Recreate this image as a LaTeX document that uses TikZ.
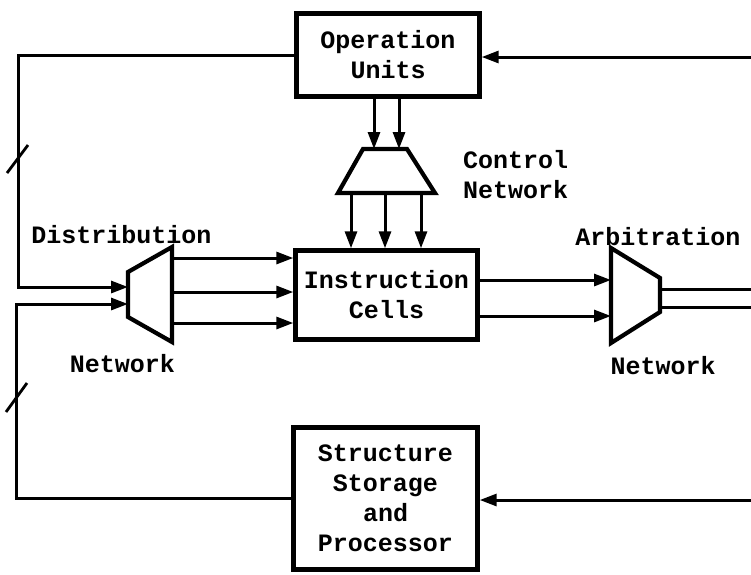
\documentclass[tikz,border=0pt]{standalone}
\usepackage{fontspec}
\setmonofont{Liberation Mono}
\usetikzlibrary{arrows.meta}
\begin{document}
\begin{tikzpicture}[x=1pt,y=-1pt,
  txt/.style={font=\ttfamily\bfseries\fontsize{25}{30}\selectfont, inner sep=0pt},
  box/.style={txt, draw, line width=4.4pt, align=center},
  trap/.style={line width=4.2pt, line join=miter},
  conn/.style={line width=3pt},
  arr/.style={conn, -{Triangle[length=17pt,width=12pt]}},
  tick/.style={line width=2.8pt}]
\useasboundingbox (0,0) rectangle (751,574);

% processing boxes
\node[box, minimum width=183pt, minimum height=83pt] (ops) at (388,55) {Operation\\Units};
\node[box, minimum width=182pt, minimum height=89pt] (cells) at (386.5,295) {Instruction\\Cells};
\node[box, minimum width=184pt, minimum height=142pt] (store) at (385.5,498.5) {Structure\\Storage\\and\\Processor};

% control network (trapezoid pointing down)
\coordinate (cnTL) at (363,149); \coordinate (cnTR) at (407,149);
\coordinate (cnBL) at (338,193); \coordinate (cnBR) at (435,193);
\draw[trap] (cnTL) -- (cnTR) -- (cnBR) -- (cnBL) -- cycle;
\node[txt, anchor=west, align=left] (cnlbl) at (463,175) {Control\\Network};

% distribution network (trapezoid widening to the right)
\coordinate (dnTL) at (128,272); \coordinate (dnBL) at (128,317);
\coordinate (dnTR) at (172,247); \coordinate (dnBR) at (172,342);
\draw[trap] (dnTL) -- (dnTR) -- (dnBR) -- (dnBL) -- cycle;
\node[txt] (dnlbl1) at (121.5,235) {Distribution};
\node[txt] (dnlbl2) at (122.5,364) {Network};

% arbitration network (trapezoid narrowing to the right)
\coordinate (anTL) at (611,248); \coordinate (anBL) at (611,343);
\coordinate (anTR) at (660,278); \coordinate (anBR) at (660,312);
\draw[trap] (anTL) -- (anTR) -- (anBR) -- (anBL) -- cycle;
\node[txt] (anlbl1) at (658,237) {Arbitration};
\node[txt] (anlbl2) at (663,366) {Network};

% operation units -> control network -> instruction cells
\foreach \x in {374,399}
  \draw[arr] (ops.south -| \x,0) -- (\x,149);
\foreach \x in {351,385,421}
  \draw[arr] (\x,193) -- (cells.north -| \x,0);

% distribution network -> instruction cells
\foreach \y in {258,292,323}
  \draw[arr] (172,\y) -- (cells.west |- 0,\y);

% instruction cells -> arbitration network
\foreach \y in {280,316}
  \draw[arr] (cells.east |- 0,\y) -- (611,\y);

% arbitration network outputs leave to the right
\coordinate (outA) at (751,289); \coordinate (outB) at (751,307);
\draw[conn] (anTR |- outA) -- (outA);
\draw[conn] (anTR |- outB) -- (outB);

% returns from the right
\coordinate (inOps) at (751,57); \coordinate (inStore) at (751,500);
\draw[arr] (inOps) -- (inOps -| ops.east);
\draw[arr] (inStore) -- (inStore -| store.east);

% feedback loops into the distribution network
\coordinate (loopA) at (18,55);
\coordinate (loopB) at (16,498);
\draw[arr] (ops.west |- loopA) -- (loopA) -- (18,287) -- (128,287);
\draw[arr] (store.west |- loopB) -- (loopB) -- (16,304) -- (128,304);

% bus width ticks
\draw[tick] (7,173) -- (28,145);
\draw[tick] (6,412) -- (27,383);
\end{tikzpicture}
\end{document}
